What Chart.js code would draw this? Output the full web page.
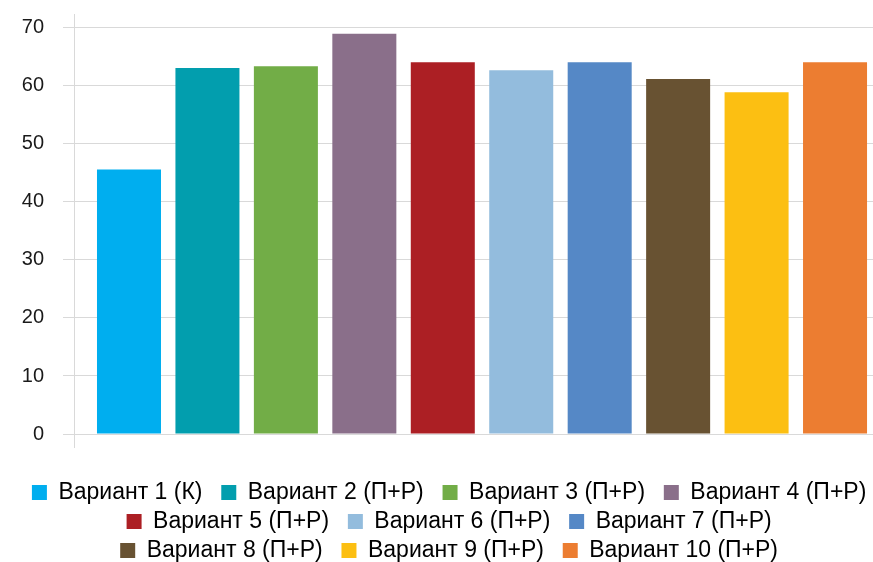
<!DOCTYPE html>
<html lang="ru">
<head>
<meta charset="utf-8">
<title>Варианты</title>
<script src="https://cdn.jsdelivr.net/npm/chart.js@4/dist/chart.umd.min.js"></script>
<style>
  html, body { margin: 0; padding: 0; background: #ffffff; }
  #chart { display: block; }
</style>
</head>
<body>
<canvas id="chart" width="873" height="562"></canvas>
<script>
// Variant names (legend entries) and their values
const categories = [
  'Вариант 1 (К)',
  'Вариант 2 (П+Р)',
  'Вариант 3 (П+Р)',
  'Вариант 4 (П+Р)',
  'Вариант 5 (П+Р)',
  'Вариант 6 (П+Р)',
  'Вариант 7 (П+Р)',
  'Вариант 8 (П+Р)',
  'Вариант 9 (П+Р)',
  'Вариант 10 (П+Р)'
];
const values = [45.6, 63.1, 63.4, 69.0, 64.1, 62.7, 64.1, 61.2, 58.9, 64.1];
const yTicks = [0, 10, 20, 30, 40, 50, 60, 70];

const colors = [
  '#00AEEF', '#029EAE', '#72AD47', '#8A6F8A', '#AC1F24',
  '#93BCDD', '#5588C6', '#685232', '#FCBF12', '#EC7D31'
];

const gridColor = '#d9d9d9';
const textColor = '#1a1a1a';
const fontFamily = '"Liberation Sans", Arial, sans-serif';

const points = values.map((v, i) => ({ x: i, y: v }));

// Centre the legend rows on the visible text (the trailing gap of each row is not drawn)
const legendShift = {
  id: 'legendShift',
  afterLayout(chart) {
    const lg = chart.legend;
    if (lg) { lg.left += 19; lg.right += 19; }
  }
};

new Chart(document.getElementById('chart'), {
  type: 'bar',
  data: {
    datasets: [{
      data: points,
      backgroundColor: colors,
      borderWidth: 0,
      categoryPercentage: 1,
      barPercentage: 0.816
    }]
  },
  plugins: [legendShift],
  options: {
    responsive: false,
    animation: false,
    devicePixelRatio: 1,
    layout: { padding: { top: 14, right: 0, left: 0, bottom: -10 } },
    plugins: {
      tooltip: { enabled: false },
      title: { display: false },
      legend: {
        display: true,
        position: 'bottom',
        align: 'center',
        onClick: null,
        labels: {
          boxWidth: 15,
          boxHeight: 15,
          padding: 6,
          color: textColor,
          font: { family: fontFamily, size: 23 },
          generateLabels: () => categories.map((name, i) => ({
            text: name + '  ',
            fillStyle: colors[i],
            strokeStyle: colors[i],
            lineWidth: 0,
            hidden: false,
            index: i,
            datasetIndex: 0
          }))
        }
      }
    },
    scales: {
      x: {
        type: 'linear',
        position: 'bottom',
        offset: false,
        min: -0.701,
        max: 9.484,
        afterBuildTicks: (scale) => { scale.ticks = [{ value: scale.min }]; },
        afterFit: (scale) => { scale.height = 41; },
        ticks: { display: false },
        grid: {
          display: true,
          offset: false,
          drawOnChartArea: false,
          drawTicks: true,
          tickLength: 14,
          color: gridColor,
          lineWidth: 1
        },
        border: { display: true, color: gridColor, width: 1 }
      },
      y: {
        min: 0,
        max: 72.4,
        afterBuildTicks: (scale) => { scale.ticks = yTicks.map(v => ({ value: v })); },
        afterFit: (scale) => {
          scale.width = 74;
          scale.paddingTop = 0;
          scale.paddingBottom = 0;
        },
        ticks: {
          stepSize: 10,
          includeBounds: false,
          padding: 19,
          color: textColor,
          font: { family: fontFamily, size: 20 }
        },
        grid: {
          color: gridColor,
          lineWidth: 1,
          drawTicks: true,
          tickLength: 11
        },
        border: { display: true, color: gridColor, width: 1 }
      }
    }
  }
});
</script>
</body>
</html>
